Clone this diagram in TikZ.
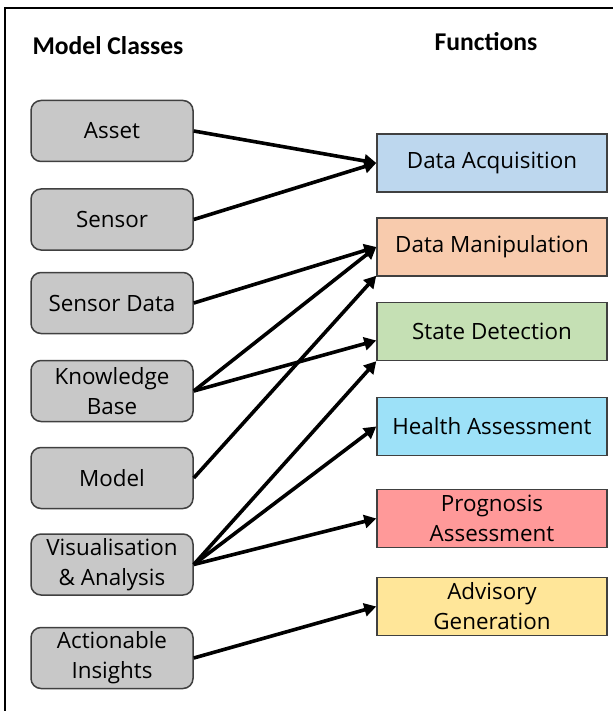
\documentclass[tikz,border=0pt]{standalone}
\usepackage{fontspec}
\setmainfont{Open Sans}
\newfontfamily\headfont{Carlito}
\usetikzlibrary{arrows.meta}
\definecolor{clsgray}{RGB}{200,200,200}
\definecolor{edgegray}{RGB}{64,64,64}
\definecolor{acqblue}{RGB}{189,215,238}
\definecolor{manpeach}{RGB}{248,203,173}
\definecolor{stategreen}{RGB}{197,224,180}
\definecolor{healthcyan}{RGB}{157,225,248}
\definecolor{progred}{RGB}{255,153,153}
\definecolor{advyellow}{RGB}{255,230,153}
\begin{document}
\begin{tikzpicture}[x=0.5pt,y=-0.5pt,
  every node/.style={font=\fontsize{11.2}{15}\selectfont, align=center},
  head/.style={font=\headfont\bfseries\fontsize{12.8}{15}\selectfont},
  cls/.style={draw=edgegray, line width=0.75pt, fill=clsgray, rounded corners=5pt,
    minimum width=81pt, minimum height=30.5pt, inner sep=1pt},
  fn/.style={draw=edgegray, line width=0.75pt, minimum width=115pt,
    minimum height=29pt, inner sep=1pt},
  arr/.style={line width=1.8pt, -{Triangle[length=6pt,width=6.5pt]}}]
\useasboundingbox (0,0) rectangle (613,711);
\draw[line width=1.2pt] (5,711) -- (5,8) -- (613,8);
\node[head] (hcls) at (108,46) {Model Classes};
\node[head] (hfn) at (486,42) {Functions};
% model classes
\node[cls] (asset) at (112,131) {Asset};
\node[cls] (sensor) at (112,219.5) {Sensor};
\node[cls] (sdata) at (112,303) {Sensor Data};
\node[cls] (kbase) at (112,391) {Knowledge\\Base};
\node[cls] (model) at (112,478) {Model};
\node[cls] (vis) at (112,564.5) {Visualisation\\\& Analysis};
\node[cls] (insight) at (112,658) {Actionable\\Insights};
% functions
\node[fn, fill=acqblue] (acq) at (492,163) {Data Acquisition};
\node[fn, fill=manpeach] (man) at (492,247) {Data Manipulation};
\node[fn, fill=stategreen] (state) at (492,331.5) {State Detection};
\node[fn, fill=healthcyan] (health) at (492,426.5) {Health Assessment};
\node[fn, fill=progred] (prog) at (492,518.5) {Prognosis\\Assessment};
\node[fn, fill=advyellow] (adv) at (492,606.5) {Advisory\\Generation};
% links
\draw[arr] (asset.east) -- (acq.west);
\draw[arr] (sensor.east) -- (acq.west);
\draw[arr] (sdata.east) -- (man.west);
\draw[arr] (kbase.east) -- (man.west);
\draw[arr] (kbase.east) -- ([yshift=-4.5pt]state.west);
\draw[arr] (model.east) -- ([yshift=0.5pt]man.south west);
\draw[arr] (vis.east) -- (state.south west);
\draw[arr] (vis.east) -- (health.west);
\draw[arr] (vis.east) -- (prog.west);
\draw[arr] (insight.east) -- (adv.west);
\end{tikzpicture}
\end{document}
